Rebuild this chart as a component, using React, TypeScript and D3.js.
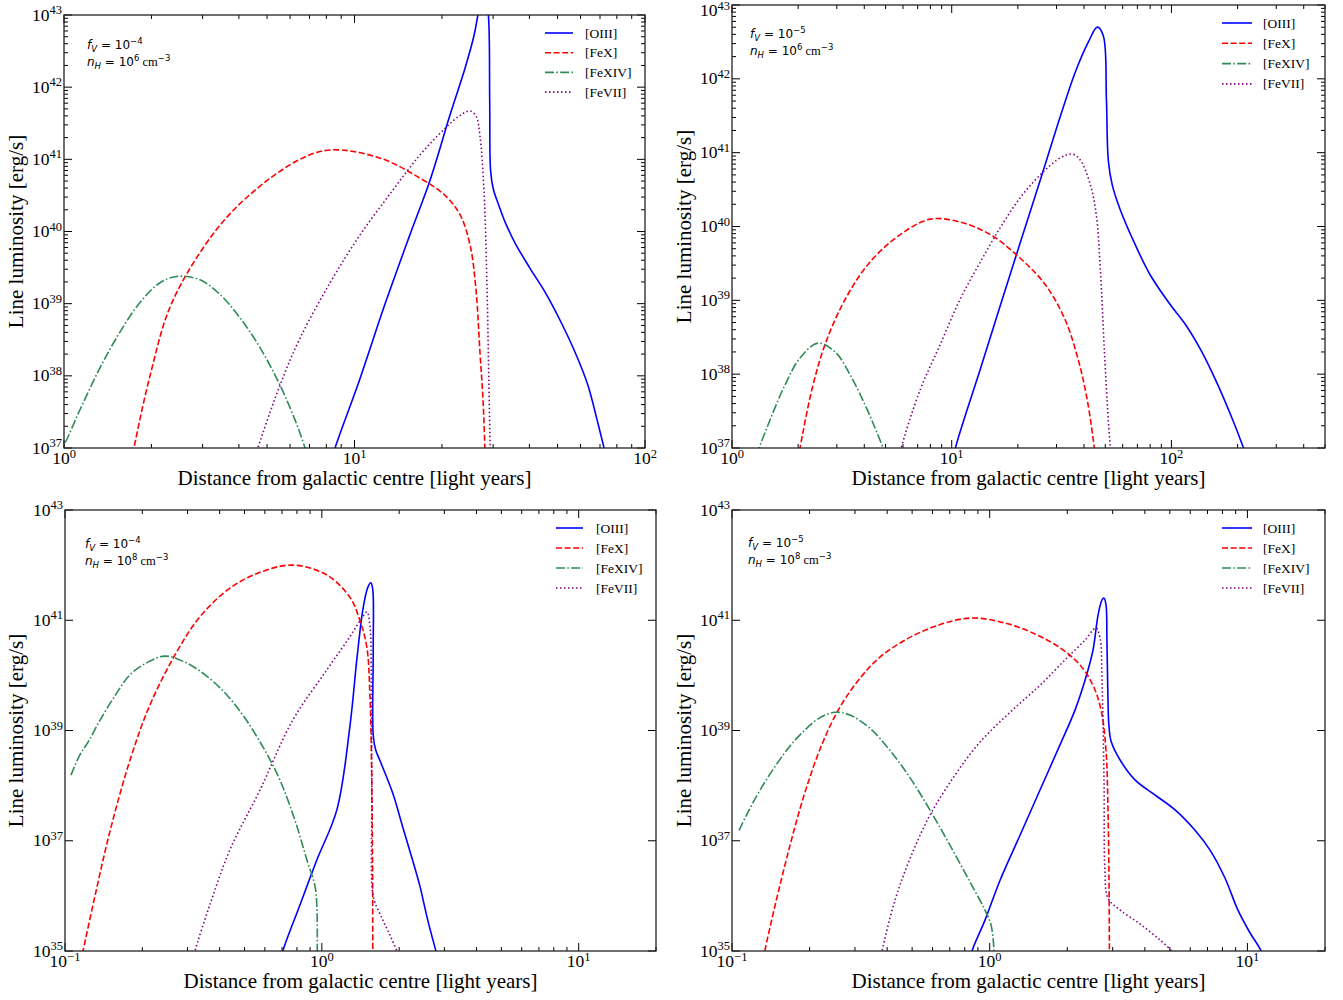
import React from 'react';
import * as d3 from 'd3';

type Pt = [number, number]; // [distance in light years, log10 of line luminosity in erg/s]

const seriesNames = ['[OIII]', '[FeX]', '[FeXIV]', '[FeVII]'];
const seriesColors = ['#0000ff', '#ff0000', '#2e8b57', '#800080'];
const seriesDash = ['', '6,2.6', '9,2.3,1.6,2.3', '1.5,2.5'];

// Panel 1: f_V = 1e-4, n_H = 1e6
const p1OIII: Pt[] = [[8.24,36.76],[8.57,37.0],[10.4,37.94],[12.7,38.98],[15.5,39.95],[18.2,40.71],[21.3,41.61],[24.0,42.26],[25.8,42.72],[26.6,43.0],[27.5,43.27],[28.1,43.34],[28.9,43.0],[29.2,41.82],[29.4,40.85],[30.0,40.6],[31.2,40.39],[33.0,40.13],[35.7,39.84],[40.2,39.49],[45.3,39.16],[51.0,38.77],[57.4,38.33],[63.6,37.87],[68.4,37.39],[72.3,37.0],[74.6,36.76]];
const p1FeX: Pt[] = [[1.70,36.8],[1.74,37.0],[1.98,38.01],[2.35,39.01],[3.31,40.0],[4.54,40.57],[6.49,41.0],[8.24,41.13],[12.2,41.02],[16.8,40.74],[20.5,40.5],[23.1,40.23],[25.0,39.81],[26.2,39.19],[27.0,38.36],[27.7,37.66],[28.1,37.0],[28.2,36.7]];
const p1FeXIV: Pt[] = [[0.95,36.9],[1.0,37.04],[1.135,37.53],[1.33,38.11],[1.56,38.61],[1.83,39.02],[2.14,39.29],[2.47,39.38],[2.94,39.33],[3.44,39.13],[4.04,38.8],[4.73,38.39],[5.54,37.87],[6.24,37.39],[6.76,37.0],[7.0,36.8]];
const p1FeVII: Pt[] = [[4.5,36.8],[4.65,37.0],[5.54,37.87],[6.49,38.52],[8.24,39.29],[10.4,39.94],[13.3,40.53],[16.8,41.06],[20.5,41.43],[23.1,41.61],[25.0,41.67],[26.2,41.6],[27.0,41.34],[27.9,40.57],[28.6,39.19],[29.0,37.94],[29.3,37.0],[29.4,36.7]];

// Panel 2: f_V = 1e-5, n_H = 1e6
const p2OIII: Pt[] = [[10.2,36.85],[10.4,37.0],[13.5,38.07],[16.6,38.92],[20.5,39.78],[25.3,40.63],[31.2,41.49],[36.5,42.09],[41.9,42.5],[46.0,42.7],[49.0,42.58],[50.6,41.72],[51.6,40.9],[53.8,40.56],[58.6,40.22],[68.5,39.75],[80.2,39.34],[98.9,38.94],[116,38.67],[136,38.33],[159,37.92],[186,37.45],[213,37.0],[225,36.8]];
const p2FeX: Pt[] = [[2.0,36.85],[2.04,37.0],[2.31,37.79],[2.65,38.4],[3.27,39.01],[4.25,39.52],[5.83,39.89],[7.98,40.1],[10.9,40.06],[15.0,39.89],[20.5,39.57],[26.7,39.21],[32.9,38.73],[37.7,38.19],[41.4,37.65],[44.6,37.0],[45.5,36.8]];
const p2FeXIV: Pt[] = [[1.3,36.9],[1.33,37.0],[1.49,37.38],[1.74,37.85],[2.04,38.22],[2.46,38.42],[2.95,38.3],[3.45,37.99],[4.04,37.58],[4.48,37.27],[4.87,37.0],[5.0,36.9]];
const p2FeVII: Pt[] = [[5.7,36.8],[5.89,37.0],[7.19,37.79],[8.86,38.4],[10.9,39.01],[13.5,39.52],[16.6,39.98],[20.5,40.39],[25.3,40.7],[31.2,40.93],[35.4,40.98],[38.5,40.9],[42.8,40.56],[45.5,40.16],[47.5,39.41],[49.5,38.33],[51.6,37.38],[52.7,37.0],[53.2,36.8]];

// Panel 3: f_V = 1e-4, n_H = 1e8
const p3OIII: Pt[] = [[0.69,34.8],[0.705,35.0],[0.821,35.83],[0.956,36.65],[1.144,37.56],[1.285,39.06],[1.368,40.28],[1.444,41.19],[1.511,41.6],[1.552,41.68],[1.579,41.55],[1.585,40.46],[1.586,38.9],[1.622,38.64],[1.682,38.46],[1.889,37.86],[2.065,37.25],[2.239,36.7],[2.405,36.19],[2.584,35.56],[2.78,35.0],[2.85,34.8]];
const p3FeX: Pt[] = [[0.115,34.8],[0.1175,35.0],[0.131,36.01],[0.15,37.19],[0.179,38.46],[0.214,39.46],[0.268,40.37],[0.335,41.06],[0.438,41.58],[0.574,41.87],[0.771,42.0],[1.046,41.82],[1.285,41.42],[1.406,41.0],[1.497,40.51],[1.538,39.68],[1.561,38.46],[1.575,36.7],[1.579,35.0],[1.58,34.7]];
const p3FeXIV: Pt[] = [[0.1055,38.19],[0.114,38.55],[0.123,38.79],[0.137,39.19],[0.157,39.64],[0.179,40.01],[0.21,40.24],[0.245,40.35],[0.293,40.24],[0.351,40.01],[0.42,39.68],[0.501,39.23],[0.6,38.64],[0.687,38.1],[0.786,37.37],[0.875,36.65],[0.939,36.19],[0.956,35.83],[0.96,35.0],[0.961,34.7]];
const p3FeVII: Pt[] = [[0.315,34.8],[0.321,35.0],[0.366,35.83],[0.438,36.83],[0.574,37.92],[0.771,39.19],[1.046,40.1],[1.285,40.7],[1.432,41.04],[1.497,41.15],[1.538,40.91],[1.558,39.91],[1.565,37.74],[1.572,36.1],[1.607,35.89],[1.712,35.6],[1.841,35.29],[1.959,35.0],[2.0,34.9]];

// Panel 4: f_V = 1e-5, n_H = 1e8
const p4OIII: Pt[] = [[0.83,34.7],[0.854,35.0],[0.959,35.56],[1.096,36.28],[1.311,37.1],[1.567,37.92],[1.874,38.74],[2.143,39.37],[2.343,39.91],[2.517,40.46],[2.632,41.09],[2.728,41.37],[2.777,41.4],[2.827,41.28],[2.85,40.64],[2.877,39.55],[2.9,39.1],[2.96,38.8],[3.21,38.46],[3.67,38.1],[4.38,37.83],[5.24,37.56],[6.26,37.19],[7.16,36.83],[8.19,36.32],[9.19,35.74],[10.2,35.34],[11.3,35.0],[11.8,34.7]];
const p4FeX: Pt[] = [[0.13,34.7],[0.134,35.0],[0.147,35.83],[0.168,36.92],[0.192,37.88],[0.223,38.74],[0.262,39.42],[0.314,39.95],[0.375,40.33],[0.469,40.64],[0.614,40.89],[0.839,41.04],[1.147,40.95],[1.5,40.75],[1.874,40.5],[2.24,40.19],[2.517,39.82],[2.705,39.37],[2.827,38.64],[2.877,37.56],[2.904,36.28],[2.914,35.0],[2.916,34.7]];
const p4FeXIV: Pt[] = [[0.1065,37.19],[0.1154,37.52],[0.1285,37.92],[0.147,38.35],[0.168,38.72],[0.192,39.01],[0.219,39.23],[0.251,39.33],[0.287,39.28],[0.343,39.04],[0.41,38.64],[0.491,38.14],[0.586,37.56],[0.701,36.92],[0.839,36.25],[0.959,35.74],[1.012,35.47],[1.039,35.0],[1.04,34.7]];
const p4FeVII: Pt[] = [[0.375,34.8],[0.382,35.0],[0.429,35.92],[0.491,36.68],[0.586,37.46],[0.733,38.19],[0.917,38.79],[1.199,39.33],[1.567,39.82],[1.958,40.28],[2.343,40.64],[2.585,40.86],[2.679,40.68],[2.728,39.91],[2.777,38.1],[2.8,36.47],[2.877,35.96],[3.21,35.74],[3.83,35.49],[4.58,35.2],[5.09,35.0],[5.2,34.95]];

const xDomainTop: [number, number] = [1, 100];
const xDomainTopRight: [number, number] = [1, 500];
const xDomainBottom: [number, number] = [0.1, 20];
const yExpTop = [37, 38, 39, 40, 41, 42, 43];
const yExpBottom = [35, 37, 39, 41, 43];
const fvExp = ['−4', '−5', '−4', '−5'];
const nhExp = ['6', '6', '8', '8'];

const xLabel = 'Distance from galactic centre [light years]';
const yLabel = 'Line luminosity [erg/s]';

const SERIF = '"Liberation Serif", "Times New Roman", serif';
const SANS = '"DejaVu Sans", sans-serif';

interface PanelCfg {
  left: number; right: number; top: number; bottom: number;
  xDom: [number, number]; yExps: number[]; yMinor: boolean;
  series: Pt[][]; fv: string; nh: string;
  leg: { x0: number; x1: number; tx: number; y0: number; dy: number };
  ann: { x: number; y: number };
  ylabX: number; xlabY: number;
}

const panels: PanelCfg[] = [
  { left: 64, right: 645, top: 15, bottom: 448, xDom: xDomainTop, yExps: yExpTop, yMinor: true,
    series: [p1OIII, p1FeX, p1FeXIV, p1FeVII], fv: fvExp[0], nh: nhExp[0],
    leg: { x0: 545, x1: 573, tx: 585, y0: 33, dy: 19.7 }, ann: { x: 87, y: 49 }, ylabX: 23, xlabY: 485 },
  { left: 732, right: 1325, top: 5, bottom: 448, xDom: xDomainTopRight, yExps: yExpTop, yMinor: true,
    series: [p2OIII, p2FeX, p2FeXIV, p2FeVII], fv: fvExp[1], nh: nhExp[1],
    leg: { x0: 1222, x1: 1252, tx: 1263, y0: 23, dy: 20.3 }, ann: { x: 750, y: 38 }, ylabX: 691, xlabY: 485 },
  { left: 65, right: 656, top: 510, bottom: 951, xDom: xDomainBottom, yExps: yExpBottom, yMinor: false,
    series: [p3OIII, p3FeX, p3FeXIV, p3FeVII], fv: fvExp[2], nh: nhExp[2],
    leg: { x0: 556, x1: 583, tx: 596, y0: 528, dy: 20 }, ann: { x: 85, y: 548 }, ylabX: 23, xlabY: 988 },
  { left: 732, right: 1325, top: 510, bottom: 951, xDom: xDomainBottom, yExps: yExpBottom, yMinor: false,
    series: [p4OIII, p4FeX, p4FeXIV, p4FeVII], fv: fvExp[3], nh: nhExp[3],
    leg: { x0: 1222, x1: 1252, tx: 1263, y0: 528, dy: 20 }, ann: { x: 748, y: 547 }, ylabX: 691, xlabY: 988 },
];

const fmtExp = (e: number) => (e < 0 ? '−' + Math.abs(e) : String(e));

function Pow10({ x, y, exp, anchor }: { x: number; y: number; exp: string; anchor: 'middle' | 'end' }) {
  return (
    <text x={x} y={y} textAnchor={anchor} fontFamily={SERIF} fontSize={17.5} fill="#000">
      <tspan>10</tspan>
      <tspan fontSize={12.5} dy={-6.5}>{exp}</tspan>
    </text>
  );
}

function Panel({ cfg, idx }: { cfg: PanelCfg; idx: number }) {
  const { left, right, top, bottom } = cfg;
  const xs = d3.scaleLog().domain(cfg.xDom).range([left, right]);
  const ys = d3.scaleLog().domain([10 ** cfg.yExps[0], 10 ** cfg.yExps[cfg.yExps.length - 1]]).range([bottom, top]);
  const line = d3.line<Pt>().x(d => xs(d[0])).y(d => ys(10 ** d[1])).curve(d3.curveCatmullRom.alpha(0.5));
  const clipId = `clip${idx}`;
  const majorLen = 8, minorLen = 4;

  const lx = Math.log10(cfg.xDom[0]), hx = Math.log10(cfg.xDom[1]);
  const xMajor: number[] = [];
  const xMinor: number[] = [];
  for (let e = Math.floor(lx); e <= Math.ceil(hx); e++) {
    const v = 10 ** e;
    if (v >= cfg.xDom[0] * 0.9999 && v <= cfg.xDom[1] * 1.0001) xMajor.push(v);
    for (let k = 2; k <= 9; k++) {
      const m = k * v;
      if (m > cfg.xDom[0] && m <= cfg.xDom[1] * 1.0001) xMinor.push(m);
    }
  }
  const yMinor: number[] = [];
  if (cfg.yMinor) {
    for (let e = cfg.yExps[0]; e < cfg.yExps[cfg.yExps.length - 1]; e++) {
      for (let k = 2; k <= 9; k++) yMinor.push(k * 10 ** e);
    }
  }
  const tickStroke = '#000';

  return (
    <g>
      <defs>
        <clipPath id={clipId}>
          <rect x={left} y={top} width={right - left} height={bottom - top} />
        </clipPath>
      </defs>
      <g clipPath={`url(#${clipId})`}>
        {cfg.series.map((s, i) => (
          <path key={i} d={line(s) || ''} fill="none" stroke={seriesColors[i]} strokeWidth={1.6}
            strokeDasharray={seriesDash[i] || undefined} />
        ))}
      </g>
      <g stroke={tickStroke} strokeWidth={1}>
        {xMajor.map((v, i) => (
          <g key={'xM' + i}>
            <line x1={xs(v)} x2={xs(v)} y1={bottom} y2={bottom - majorLen} />
            <line x1={xs(v)} x2={xs(v)} y1={top} y2={top + majorLen} />
          </g>
        ))}
        {xMinor.map((v, i) => (
          <g key={'xm' + i}>
            <line x1={xs(v)} x2={xs(v)} y1={bottom} y2={bottom - minorLen} />
            <line x1={xs(v)} x2={xs(v)} y1={top} y2={top + minorLen} />
          </g>
        ))}
        {cfg.yExps.map((e, i) => (
          <g key={'yM' + i}>
            <line x1={left} x2={left + majorLen} y1={ys(10 ** e)} y2={ys(10 ** e)} />
            <line x1={right} x2={right - majorLen} y1={ys(10 ** e)} y2={ys(10 ** e)} />
          </g>
        ))}
        {yMinor.map((v, i) => (
          <g key={'ym' + i}>
            <line x1={left} x2={left + minorLen} y1={ys(v)} y2={ys(v)} />
            <line x1={right} x2={right - minorLen} y1={ys(v)} y2={ys(v)} />
          </g>
        ))}
      </g>
      <rect x={left} y={top} width={right - left} height={bottom - top} fill="none" stroke="#222" strokeWidth={1.3} />
      {xMajor.map((v, i) => (
        <Pow10 key={'xl' + i} x={xs(v)} y={bottom + 16} exp={fmtExp(Math.round(Math.log10(v)))} anchor="middle" />
      ))}
      {cfg.yExps.map((e, i) => (
        <Pow10 key={'yl' + i} x={left - 2} y={Math.max(ys(10 ** e) + 5.5, 16)} exp={fmtExp(e)} anchor="end" />
      ))}
      <text x={(left + right) / 2} y={cfg.xlabY} textAnchor="middle" fontFamily={SERIF} fontSize={21} fill="#000">{xLabel}</text>
      <text transform={`translate(${cfg.ylabX},${(top + bottom) / 2}) rotate(-90)`} textAnchor="middle" fontFamily={SERIF} fontSize={21} fill="#000">{yLabel}</text>
      <text x={cfg.ann.x} y={cfg.ann.y} fontFamily={SANS} fontSize={12} fill="#000">
        <tspan fontStyle="italic">f</tspan>
        <tspan fontStyle="italic" fontSize={8.5} dy={3}>V</tspan>
        <tspan dy={-3}>{' = 10'}</tspan>
        <tspan fontSize={8.5} dy={-5}>{cfg.fv}</tspan>
      </text>
      <text x={cfg.ann.x} y={cfg.ann.y + 17} fontFamily={SANS} fontSize={12} fill="#000">
        <tspan fontStyle="italic">n</tspan>
        <tspan fontStyle="italic" fontSize={8.5} dy={3}>H</tspan>
        <tspan dy={-3}>{' = 10'}</tspan>
        <tspan fontSize={8.5} dy={-5}>{cfg.nh}</tspan>
        <tspan fontFamily={SERIF} fontSize={12.5} dy={5}>{' cm'}</tspan>
        <tspan fontSize={8.5} dy={-5}>−3</tspan>
      </text>
      {seriesNames.map((n, i) => {
        const yy = cfg.leg.y0 + i * cfg.leg.dy;
        return (
          <g key={'lg' + i}>
            <line x1={cfg.leg.x0} x2={cfg.leg.x1} y1={yy} y2={yy} stroke={seriesColors[i]} strokeWidth={1.6}
              strokeDasharray={seriesDash[i] || undefined} />
            <text x={cfg.leg.tx} y={yy + 4.5} fontFamily={SERIF} fontSize={13.5} fill="#000">{n}</text>
          </g>
        );
      })}
    </g>
  );
}

export default function App() {
  return (
    <svg width={1343} height={1000} style={{ position: 'absolute', left: 0, top: 0, background: '#fff' }}
      xmlns="http://www.w3.org/2000/svg">
      <rect x={0} y={0} width={1343} height={1000} fill="#fff" />
      {panels.map((p, i) => <Panel key={i} cfg={p} idx={i} />)}
    </svg>
  );
}
